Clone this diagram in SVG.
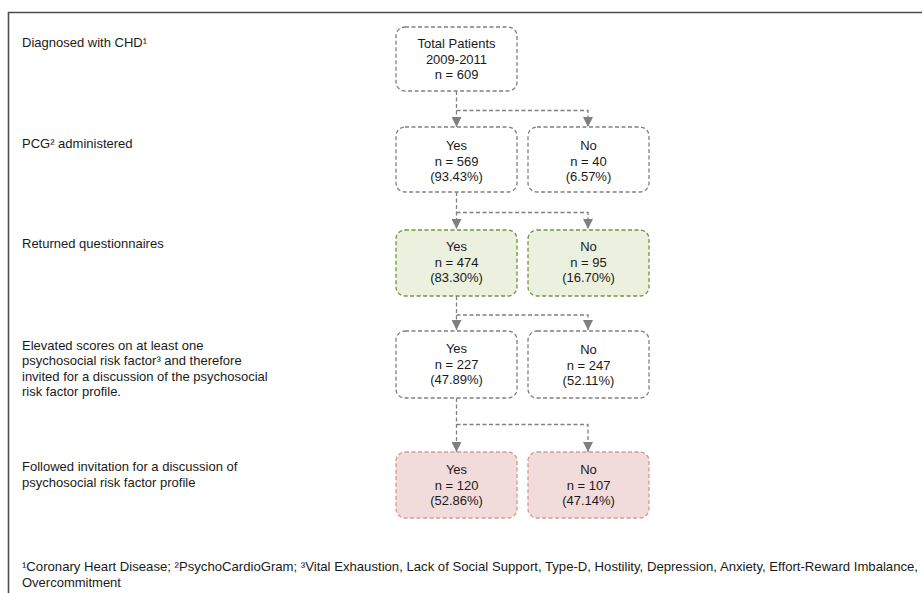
<svg xmlns="http://www.w3.org/2000/svg" width="922" height="593" viewBox="0 0 922 593">
<defs>
<style>
text{font-family:"Liberation Sans",Arial,sans-serif;font-size:13px;fill:#1a1a1a}
.c text{text-anchor:middle}
.box{fill:#fff;stroke:#808080;stroke-width:1.3;stroke-dasharray:4 2.5}
.g{fill:#ebf1de;stroke:#77933c}
.r{fill:#f2dcdb;stroke:#d99694}
.con path{fill:none;stroke:#808080;stroke-width:1.3;stroke-dasharray:4 2.5}
</style>
<marker id="ah" viewBox="0 0 10 10" refX="10" refY="5" markerWidth="10" markerHeight="10" markerUnits="userSpaceOnUse" orient="auto">
<path d="M0,0 L10,5 L0,10 Z" fill="#7f7f7f"/>
</marker>
</defs>
<rect width="922" height="593" fill="#fff"/>
<path d="M8.5,593 V12.5 H922" fill="none" stroke="#4d4d4d" stroke-width="1.6"/>

<g id="labels">
<text x="22" y="47">Diagnosed with CHD¹</text>
<text x="22" y="148">PCG² administered</text>
<text x="22" y="248">Returned questionnaires</text>
<text x="22" y="349.5">Elevated scores on at least one</text>
<text x="22" y="365">psychosocial risk factor³ and therefore</text>
<text x="22" y="380.5">invited for a discussion of the psychosocial</text>
<text x="22" y="396">risk factor profile.</text>
<text x="22" y="471">Followed invitation for a discussion of</text>
<text x="22" y="486.5">psychosocial risk factor profile</text>
</g>

<g id="connectors" class="con">
<path d="M456.5,91 V110.5 V127" marker-end="url(#ah)"/>
<path d="M456.5,110.5 H588 V127" marker-end="url(#ah)"/>
<path d="M456.5,192 V212.5 V229" marker-end="url(#ah)"/>
<path d="M456.5,212.5 H588 V229" marker-end="url(#ah)"/>
<path d="M456.5,296 V315 V330" marker-end="url(#ah)"/>
<path d="M456.5,315 H588 V330" marker-end="url(#ah)"/>
<path d="M456.5,398 V424.5 V452" marker-end="url(#ah)"/>
<path d="M456.5,424.5 H588 V452" marker-end="url(#ah)"/>
</g>

<g id="n-total" class="c">
<rect class="box" x="396" y="27" width="121" height="64" rx="9"/>
<text x="456.5" y="48">Total Patients</text>
<text x="456.5" y="64">2009-2011</text>
<text x="456.5" y="79">n = 609</text>
</g>

<g id="n-pcg-yes" class="c">
<rect class="box" x="396" y="127" width="121" height="65" rx="9"/>
<text x="456.5" y="150">Yes</text>
<text x="456.5" y="165.5">n = 569</text>
<text x="456.5" y="181">(93.43%)</text>
</g>
<g id="n-pcg-no" class="c">
<rect class="box" x="528" y="127" width="121" height="65" rx="9"/>
<text x="588.5" y="150">No</text>
<text x="588.5" y="165.5">n = 40</text>
<text x="588.5" y="181">(6.57%)</text>
</g>

<g id="n-ret-yes" class="c">
<rect class="box g" x="396" y="230" width="121" height="66" rx="9"/>
<text x="456.5" y="251">Yes</text>
<text x="456.5" y="266.5">n = 474</text>
<text x="456.5" y="282">(83.30%)</text>
</g>
<g id="n-ret-no" class="c">
<rect class="box g" x="528" y="230" width="121" height="66" rx="9"/>
<text x="588.5" y="251">No</text>
<text x="588.5" y="266.5">n = 95</text>
<text x="588.5" y="282">(16.70%)</text>
</g>

<g id="n-elev-yes" class="c">
<rect class="box" x="396" y="331" width="121" height="67" rx="9"/>
<text x="456.5" y="353">Yes</text>
<text x="456.5" y="368.5">n = 227</text>
<text x="456.5" y="384">(47.89%)</text>
</g>
<g id="n-elev-no" class="c">
<rect class="box" x="528" y="331" width="121" height="67" rx="9"/>
<text x="588.5" y="354">No</text>
<text x="588.5" y="369.5">n = 247</text>
<text x="588.5" y="385">(52.11%)</text>
</g>

<g id="n-fol-yes" class="c">
<rect class="box r" x="396" y="452" width="121" height="66" rx="9"/>
<text x="456.5" y="474">Yes</text>
<text x="456.5" y="489.5">n = 120</text>
<text x="456.5" y="505">(52.86%)</text>
</g>
<g id="n-fol-no" class="c">
<rect class="box r" x="528" y="452" width="121" height="66" rx="9"/>
<text x="588.5" y="474">No</text>
<text x="588.5" y="489.5">n = 107</text>
<text x="588.5" y="505">(47.14%)</text>
</g>

<g id="footnote">
<text x="22" y="571" textLength="896" lengthAdjust="spacingAndGlyphs">¹Coronary Heart Disease; ²PsychoCardioGram; ³Vital Exhaustion, Lack of Social Support, Type-D, Hostility, Depression, Anxiety, Effort-Reward Imbalance,</text>
<text x="22" y="587">Overcommitment</text>
</g>
</svg>
